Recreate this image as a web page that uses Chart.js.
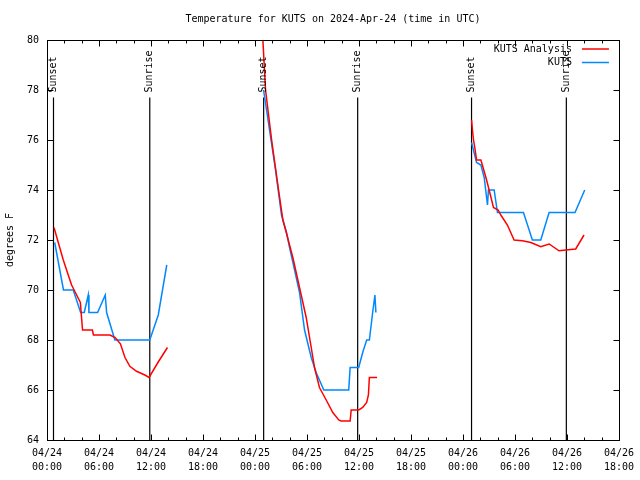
<!DOCTYPE html>
<html>
<head>
<meta charset="utf-8">
<title>Temperature for KUTS</title>
<script src="https://cdn.jsdelivr.net/npm/chart.js@4/dist/chart.umd.min.js"></script>
<style>
    body { margin: 0; background: #ffffff; }
    #temp_chart_canvas { display: block; }
</style>
</head>
<body>
<canvas id="temp_chart_canvas" width="640" height="480"></canvas>
<script>
/*--------------------------------------------------------------------------------
----- TEMPERATURE LINECHART (KUTS analysis against KUTS observations, 3 nights)
--------------------------------------------------------------------------------*/

// Hours since 04/24 00:00 UTC; a null temperature breaks the line between nights
var analysis_hours = [0.81, 1.30, 1.88, 2.45, 2.84, 3.42, 3.85, 4.10, 5.24, 5.36, 7.26, 7.87, 8.47, 9.00,
    9.56, 10.33, 11.29, 11.78, 12.80, 13.90, 18,
    24.85, 25.22, 25.92, 26.72, 27.22, 27.61, 28.37, 29.14, 29.91, 30.49, 30.87, 31.44, 32.22, 32.98,
    33.67, 33.94, 34.98, 35.10, 35.97, 36.43, 36.89, 37.09, 37.20, 38.09, 43,
    48.99, 49.11, 49.22, 49.41, 49.57, 50.07, 50.65, 51.02, 51.52, 52.06, 52.37, 53.13, 53.90, 54.86,
    55.83, 56.98, 57.94, 59.09, 59.86, 61.01, 61.97];
var analysis_temps = [72.5, 71.9, 71.2, 70.6, 70.2, 69.8, 69.5, 68.4, 68.4, 68.2, 68.2, 68.1, 67.85, 67.3,
    66.95, 66.75, 66.6, 66.5, 67.1, 67.7, null,
    80.4, 78.0, 76.0, 74.0, 72.8, 72.3, 71.3, 70.1, 68.9, 67.7, 66.9, 66.1, 65.6, 65.1,
    64.8, 64.76, 64.76, 65.2, 65.2, 65.3, 65.5, 65.8, 66.5, 66.5, null,
    76.8, 76.35, 76.0, 75.6, 75.2, 75.2, 74.5, 74.0, 73.3, 73.2, 73.0, 72.6, 72.0, 71.97,
    71.9, 71.73, 71.84, 71.57, 71.6, 71.64, 72.2];

var observed_hours = [0.89, 1.90, 3.03, 3.88, 4.30, 4.76, 4.84, 5.84, 6.72, 6.88, 7.83, 11.86, 12.84, 13.82, 18,
    24.99, 25.68, 26.37, 27.06, 27.64, 27.99, 28.57, 29.14, 29.72, 30.49, 31.06, 31.94, 34.82, 34.98,
    35.97, 36.43, 36.89, 37.20, 37.58, 37.84, 37.95, 43,
    48.99, 49.57, 50.07, 50.45, 50.83, 50.94, 51.60, 51.98, 54.98, 56.01, 56.98, 57.94, 60.93, 62.05];
var observed_temps = [71.9, 70.0, 70.0, 69.1, 69.1, 69.8, 69.1, 69.1, 69.8, 69.1, 68.0, 68.0, 69.0, 71.0, null,
    78.0, 76.4, 74.8, 73.0, 72.3, 71.7, 70.8, 69.9, 68.4, 67.3, 66.7, 66.0, 66.0, 66.9,
    66.9, 67.5, 68.0, 68.0, 69.1, 69.8, 69.1, null,
    75.9, 75.1, 75.0, 74.5, 73.4, 74.0, 74.0, 73.1, 73.1, 72.0, 72.0, 73.1, 73.1, 74.0];

// Sunset / sunrise markers (hours since 04/24 00:00 UTC)
var sun_hours = [0.75, 11.86, 25.0, 35.85, 48.99, 59.93];
var sun_labels = ['Sunset', 'Sunrise', 'Sunset', 'Sunrise', 'Sunset', 'Sunrise'];
var sun_line_top = 77.7;

var day_labels = ['04/24', '04/25', '04/26'];
var series_labels = ['KUTS Analysis', 'KUTS'];
var chart_title = 'Temperature for KUTS on 2024-Apr-24 (time in UTC)';
var y_title = 'degrees F';

var FONT = '10px "DejaVu Sans Mono", "Liberation Mono", monospace';

function to_points(hours, temps) {
    var points = [];
    for (var i = 0; i < hours.length; i++) {
        points.push({ x: hours[i], y: temps[i] });
    }
    return points;
}

// Build the datasets: the two temperature series, then one black marker line per sun event
var datasets = [{
    label: series_labels[0],
    data: to_points(analysis_hours, analysis_temps),
    borderColor: '#ff0000',
    borderWidth: 1.5,
    is_series: true
}, {
    label: series_labels[1],
    data: to_points(observed_hours, observed_temps),
    borderColor: '#0088ff',
    borderWidth: 1.5,
    is_series: true
}];
for (var i = 0; i < sun_hours.length; i++) {
    datasets.push({
        label: sun_labels[i],
        data: [{ x: sun_hours[i], y: 64 }, { x: sun_hours[i], y: sun_line_top }],
        borderColor: '#000000',
        borderWidth: 1.2
    });
}

// Gnuplot-like frame, inward ticks, titles, sun labels and legend
var gnuplot_look = {
    id: 'gnuplot_look',
    afterDraw: function (chart) {
        var ctx = chart.ctx;
        var area = chart.chartArea;
        var xs = chart.scales.x;
        var ys = chart.scales.y;
        ctx.save();
        ctx.strokeStyle = '#000000';
        ctx.fillStyle = '#000000';
        ctx.lineWidth = 1;
        ctx.font = FONT;

        var L = Math.round(area.left) + 0.5, R = Math.round(area.right) + 0.5;
        var T = Math.round(area.top) + 0.5, B = Math.round(area.bottom) + 0.5;
        ctx.strokeRect(L, T, R - L, B - T);

        ctx.beginPath();
        for (var h = xs.min; h <= xs.max; h += 2) {
            var px = Math.round(xs.getPixelForValue(h)) + 0.5;
            var len = (h % 6 === 0) ? 6 : 3;
            ctx.moveTo(px, B); ctx.lineTo(px, B - len);
            ctx.moveTo(px, T); ctx.lineTo(px, T + len);
        }
        for (var v = ys.min; v <= ys.max; v += 2) {
            var py = Math.round(ys.getPixelForValue(v)) + 0.5;
            ctx.moveTo(L, py); ctx.lineTo(L + 6, py);
            ctx.moveTo(R, py); ctx.lineTo(R - 6, py);
        }
        ctx.stroke();

        // chart title
        ctx.textAlign = 'center';
        ctx.textBaseline = 'middle';
        ctx.fillText(chart_title, (area.left + area.right) / 2, 19);

        // y axis title
        ctx.save();
        ctx.translate(10, (area.top + area.bottom) / 2);
        ctx.rotate(-Math.PI / 2);
        ctx.fillText(y_title, 0, 0);
        ctx.restore();

        // sunset / sunrise labels above their lines
        var label_bottom = ys.getPixelForValue(sun_line_top) - 5;
        for (var i = 0; i < sun_hours.length; i++) {
            ctx.save();
            ctx.translate(xs.getPixelForValue(sun_hours[i]), label_bottom);
            ctx.rotate(-Math.PI / 2);
            ctx.textAlign = 'left';
            ctx.fillText(sun_labels[i], 0, 0);
            ctx.restore();
        }

        // legend in the top right corner of the plot
        var row = 0;
        chart.data.datasets.forEach(function (ds) {
            if (!ds.is_series) return;
            var ly = area.top + 9 + row * 13.5;
            ctx.textAlign = 'right';
            ctx.fillText(ds.label, area.right - 47, ly);
            ctx.strokeStyle = ds.borderColor;
            ctx.lineWidth = 1.5;
            ctx.beginPath();
            ctx.moveTo(area.right - 37, ly);
            ctx.lineTo(area.right - 10, ly);
            ctx.stroke();
            row++;
        });
        ctx.restore();
    }
};

var context = document.getElementById('temp_chart_canvas').getContext('2d');

var temp_chart = new Chart(context, {
    type: 'line',
    data: { datasets: datasets },
    plugins: [gnuplot_look],
    options: {
        responsive: false,
        animation: false,
        events: [],
        layout: { padding: { top: 40, right: 20, left: 0, bottom: 0 } },
        elements: {
            line: { tension: 0, fill: false },
            point: { radius: 0 }
        },
        plugins: {
            legend: { display: false },
            tooltip: { enabled: false },
            title: { display: false }
        },
        scales: {
            x: {
                type: 'linear',
                min: 0,
                max: 66,
                grid: { display: false, drawTicks: false },
                border: { display: false },
                afterFit: function (scale) { scale.height = 40; },
                ticks: {
                    stepSize: 6,
                    autoSkip: false,
                    maxRotation: 0,
                    padding: 6,
                    color: '#000000',
                    font: { family: '"DejaVu Sans Mono", "Liberation Mono", monospace', size: 10, lineHeight: 1.4 },
                    callback: function (value) {
                        var hour = value % 24;
                        return [day_labels[Math.floor(value / 24)], (hour < 10 ? '0' : '') + hour + ':00'];
                    }
                }
            },
            y: {
                min: 64,
                max: 80,
                grid: { display: false, drawTicks: false },
                border: { display: false },
                afterFit: function (scale) { scale.width = 47; },
                ticks: {
                    stepSize: 2,
                    padding: 8,
                    color: '#000000',
                    font: { family: '"DejaVu Sans Mono", "Liberation Mono", monospace', size: 10 }
                }
            }
        }
    }
});
</script>
</body>
</html>
